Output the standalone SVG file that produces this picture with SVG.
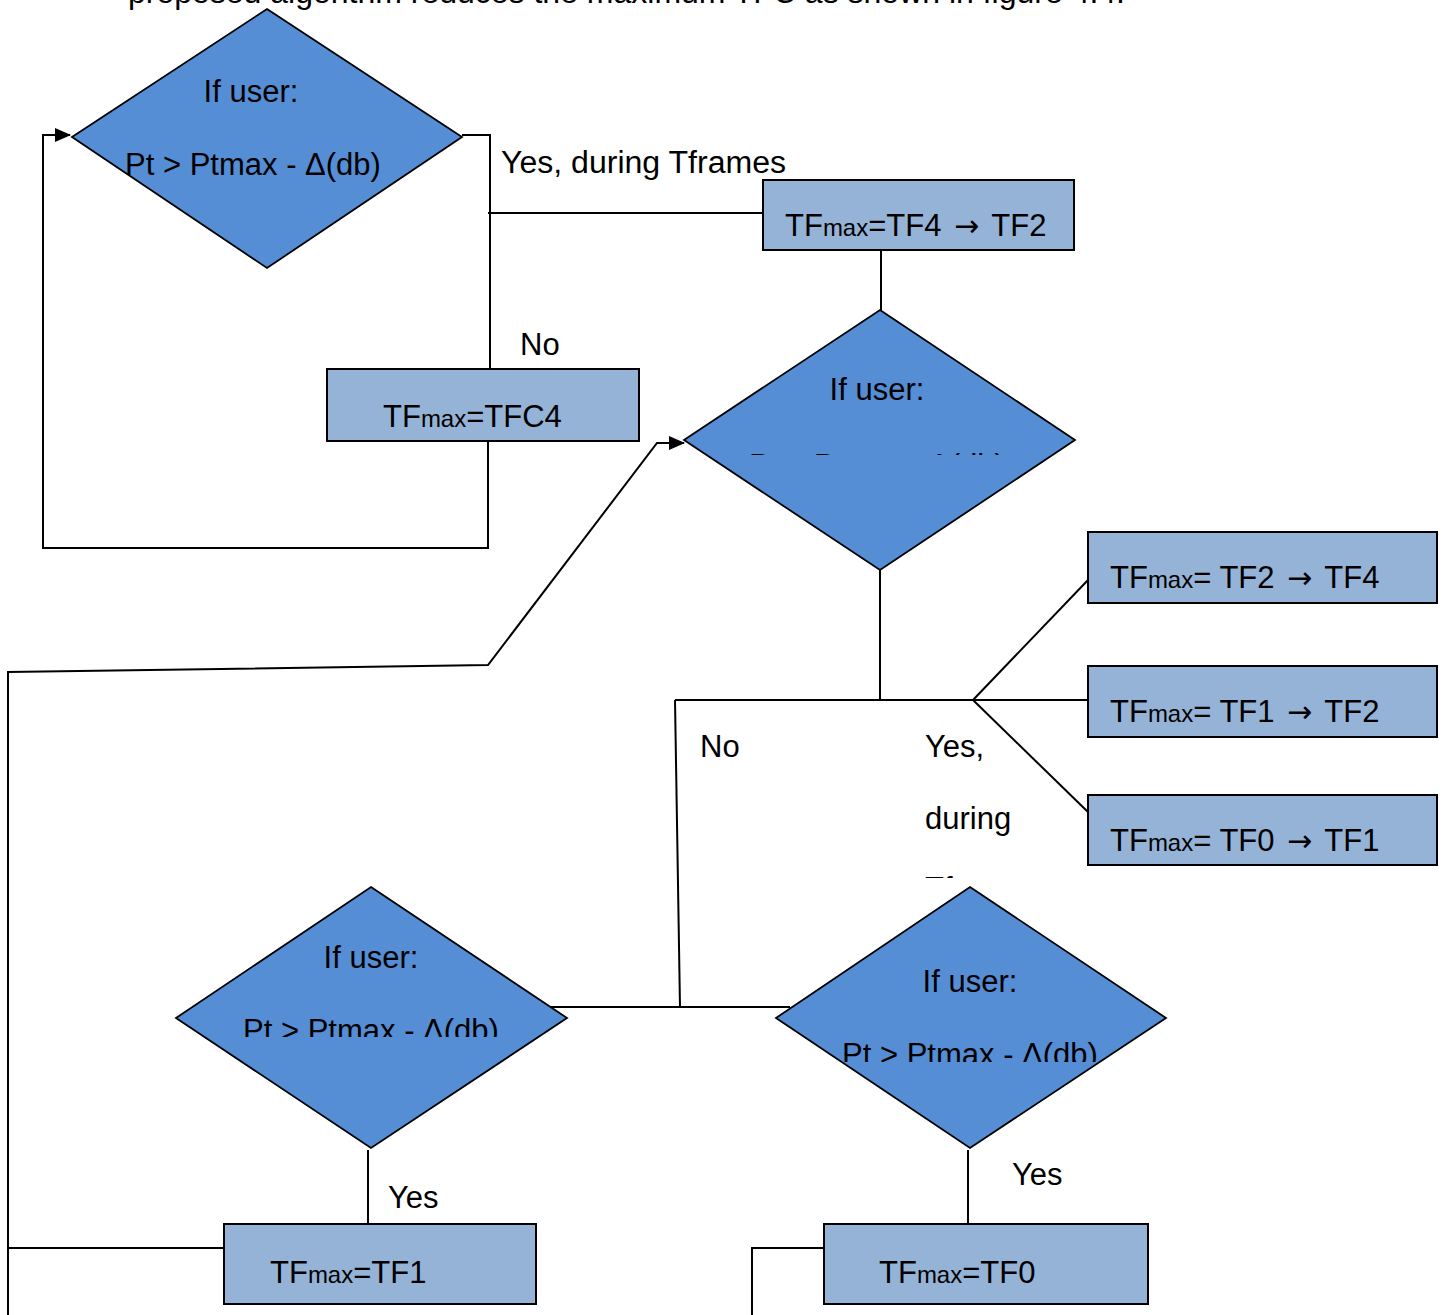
<svg xmlns="http://www.w3.org/2000/svg" width="1445" height="1315" viewBox="0 0 1445 1315">
<style>
text{font-family:"Liberation Sans",Arial,sans-serif;font-size:31px;fill:#000}
.sub{font-size:24px}
.arr{font-family:"DejaVu Sans",sans-serif;font-size:30px}
.dia{fill:#558ED5;stroke:#000;stroke-width:1.8}
.box{fill:#95B3D7;stroke:#000;stroke-width:2}
.ln{fill:none;stroke:#000;stroke-width:2}
</style>
<defs>
<marker id="ah" markerWidth="16" markerHeight="14" refX="15" refY="7" orient="auto" markerUnits="userSpaceOnUse">
<path d="M0,0 L16,7 L0,14 Z" fill="#000"/>
</marker>
<clipPath id="c2"><rect x="600" y="300" width="500" height="155"/></clipPath>
<clipPath id="c3"><rect x="100" y="900" width="500" height="137"/></clipPath>
<clipPath id="c4"><rect x="700" y="900" width="500" height="162"/></clipPath>
<clipPath id="cy"><rect x="900" y="720" width="200" height="158"/></clipPath>
</defs>
<rect width="1445" height="1315" fill="#fff"/>
<text x="128" y="3" textLength="997" lengthAdjust="spacingAndGlyphs">proposed algorithm reduces the maximum TFC as shown in figure 4.4.</text>
<g id="connectors">
<polyline class="ln" points="462,135 490,135 490,369"/>
<line class="ln" x1="488" y1="213" x2="763" y2="213"/>
<polyline class="ln" points="488,441 488,548 43,548 43,135 70,135" marker-end="url(#ah)"/>
<line class="ln" x1="881" y1="250" x2="881" y2="310"/>
<line class="ln" x1="880" y1="570" x2="880" y2="700"/>
<line class="ln" x1="675" y1="700" x2="1088" y2="700"/>
<line class="ln" x1="973" y1="700" x2="1088" y2="580"/>
<line class="ln" x1="973" y1="700" x2="1088" y2="812"/>
<polyline class="ln" points="675,700 680,1007"/>
<line class="ln" x1="550" y1="1007" x2="790" y2="1007"/>
<line class="ln" x1="368" y1="1150" x2="368" y2="1224"/>
<line class="ln" x1="968" y1="1150" x2="968" y2="1224"/>
<polyline class="ln" points="224,1248 8,1248"/>
<polyline class="ln" points="8,1315 8,672 488,665 657,443 684,443" marker-end="url(#ah)"/>
<polyline class="ln" points="824,1248 752,1248 752,1315"/>
</g>
<g id="labels">
<text x="501" y="173" textLength="285" lengthAdjust="spacingAndGlyphs">Yes, during Tframes</text>
<text x="520" y="355">No</text>
<text x="700" y="757">No</text>
<g clip-path="url(#cy)">
<text x="925" y="757">Yes,</text>
<text x="925" y="829">during</text>
<text x="925" y="899">Tframes</text>
</g>
<text x="388" y="1208">Yes</text>
<text x="1012" y="1185">Yes</text>
</g>
<g id="d1">
<polygon class="dia" points="267,9 462,137 267,268 72,137"/>
<text x="251" y="102" text-anchor="middle">If user:</text>
<text x="253" y="175" text-anchor="middle">Pt &gt; Ptmax - Δ(db)</text>
</g>
<g id="b_tf4tf2">
<rect class="box" x="763" y="180" width="311" height="70"/>
<text x="785" y="236">TF<tspan class="sub">max</tspan>=TF4 <tspan class="arr" dx="4">→</tspan><tspan dx="4"> TF2</tspan></text>
</g>
<g id="b_tfc4">
<rect class="box" x="327" y="369" width="312" height="72"/>
<text x="383" y="427">TF<tspan class="sub">max</tspan>=TFC4</text>
</g>
<g id="d2">
<polygon class="dia" points="880,310 1075,440 880,570 684,440"/>
<text x="877" y="400" text-anchor="middle">If user:</text>
<text x="877" y="476" text-anchor="middle" clip-path="url(#c2)">Pt &gt; Ptmax - Δ(db)</text>
</g>
<g id="b_tf2tf4">
<rect class="box" x="1088" y="532" width="349" height="71"/>
<text x="1110" y="588">TF<tspan class="sub">max</tspan>= TF2 <tspan class="arr" dx="4">→</tspan><tspan dx="4"> TF4</tspan></text>
</g>
<g id="b_tf1tf2">
<rect class="box" x="1088" y="666" width="349" height="71"/>
<text x="1110" y="722">TF<tspan class="sub">max</tspan>= TF1 <tspan class="arr" dx="4">→</tspan><tspan dx="4"> TF2</tspan></text>
</g>
<g id="b_tf0tf1">
<rect class="box" x="1088" y="795" width="349" height="70"/>
<text x="1110" y="851">TF<tspan class="sub">max</tspan>= TF0 <tspan class="arr" dx="4">→</tspan><tspan dx="4"> TF1</tspan></text>
</g>
<g id="d3">
<polygon class="dia" points="371,887 567,1018 371,1148 176,1018"/>
<text x="371" y="968" text-anchor="middle">If user:</text>
<text x="371" y="1041" text-anchor="middle" clip-path="url(#c3)">Pt &gt; Ptmax - Δ(db)</text>
</g>
<g id="d4">
<polygon class="dia" points="970,887 1166,1018 970,1148 776,1018"/>
<text x="970" y="992" text-anchor="middle">If user:</text>
<text x="970" y="1065" text-anchor="middle" clip-path="url(#c4)">Pt &gt; Ptmax - Δ(db)</text>
</g>
<g id="b_tf1">
<rect class="box" x="224" y="1224" width="312" height="80"/>
<text x="270" y="1283">TF<tspan class="sub">max</tspan>=TF1</text>
</g>
<g id="b_tf0">
<rect class="box" x="824" y="1224" width="324" height="80"/>
<text x="879" y="1283">TF<tspan class="sub">max</tspan>=TF0</text>
</g>
</svg>
